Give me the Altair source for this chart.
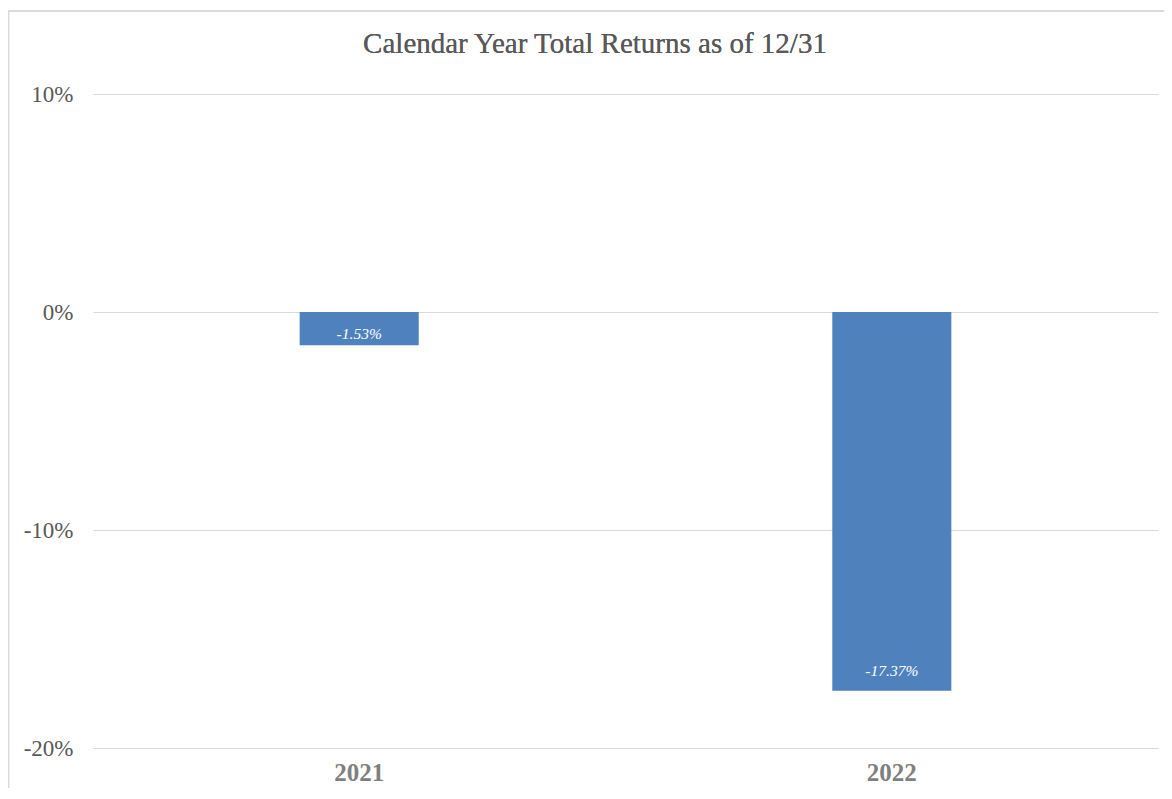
import altair as alt
import pandas as pd

title_text = "Calendar Year Total Returns as of 12/31"
years = ["2021", "2022"]
returns = [-1.53, -17.37]
labels = ["-1.53%", "-17.37%"]
y_ticks = [-20, -10, 0, 10]

df = pd.DataFrame({"year": years, "ret": returns, "label": labels})

FONT = "Liberation Serif"
W, H = 1065, 654

x_enc = alt.X(
    "year:N",
    sort=years,
    scale=alt.Scale(paddingInner=0.7765, paddingOuter=0.388),
    axis=alt.Axis(
        title=None, labelAngle=0, domain=False, ticks=False,
        labelFont=FONT, labelFontSize=25, labelFontWeight="bold",
        labelColor="#7f7f7f", labelPadding=12,
    ),
)

y_scale = alt.Scale(domain=[-20, 10], nice=False, zero=False)

bars = alt.Chart(df).mark_bar(color="#4F81BD").encode(
    x=x_enc,
    y=alt.Y(
        "ret:Q",
        scale=y_scale,
        axis=alt.Axis(
            title=None, values=y_ticks, labelExpr="datum.value + '%'",
            domain=False, ticks=False, grid=True, gridColor="#d9d9d9",
            gridWidth=1, labelFont=FONT, labelFontSize=23,
            labelColor="#595959", labelPadding=20, labelBaseline="middle",
        ),
    ),
    y2=alt.datum(0),
)

text = alt.Chart(df).transform_calculate(
    lab_y="min(datum.ret * 0.66, datum.ret + 0.9)"
).mark_text(
    font=FONT, fontSize=15.5, fontStyle="italic", color="white",
    baseline="middle", align="center",
).encode(
    x=alt.X("year:N", sort=years),
    y=alt.Y("lab_y:Q", scale=y_scale),
    text="label:N",
)

border = alt.Chart(df).mark_rect(
    fill=None, stroke="#d9d9d9", strokeWidth=1.5, clip=False
).encode(
    x=alt.value(-84.5), x2=alt.value(1200),
    y=alt.value(-83), y2=alt.value(900),
)

title = alt.Chart(df).mark_text(
    text=title_text, font=FONT, fontSize=29, color="#595959",
    align="center", baseline="alphabetic",
).encode(x=alt.value(502), y=alt.value(-41))

chart = alt.layer(border, bars, text, title).properties(
    width=W, height=H,
    background="white",
    autosize=alt.AutoSizeParams(type="none"),
    padding={"left": 85, "top": 86, "right": 6, "bottom": 40},
).configure_view(stroke=None)

chart.save("out.html", embed_options={"renderer": "svg", "actions": False})
